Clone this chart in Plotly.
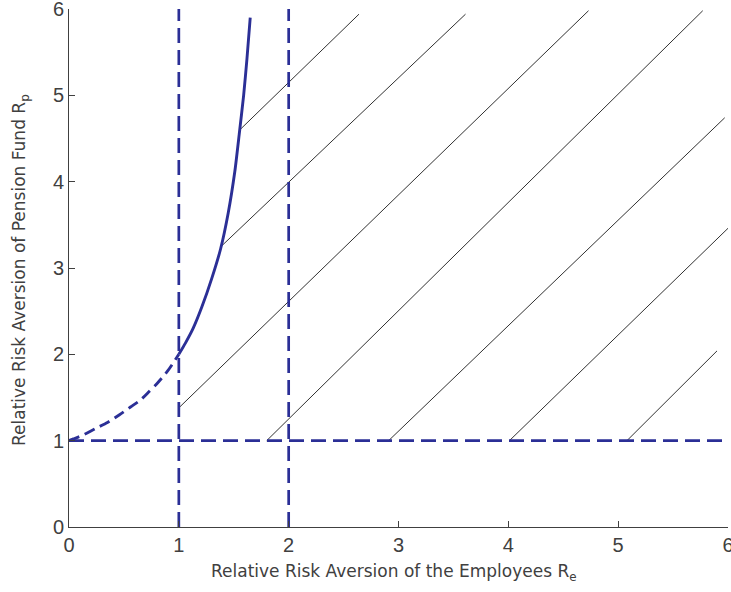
import plotly.graph_objects as go

# Boundary curve
curve_dash_x = [0.00, 0.04, 0.12, 0.24, 0.35, 0.46, 0.56, 0.65, 0.73, 0.80, 0.90, 1.00]
curve_dash_y = [1.00, 1.02, 1.06, 1.14, 1.21, 1.30, 1.39, 1.47, 1.57, 1.66, 1.81, 2.00]
curve_solid_x = [1.00, 1.06, 1.13, 1.21, 1.30, 1.38, 1.45, 1.51, 1.55, 1.59, 1.62, 1.65]
curve_solid_y = [2.00, 2.13, 2.30, 2.55, 2.88, 3.22, 3.64, 4.12, 4.55, 5.00, 5.42, 5.90]

# Hatch segments (start / end)
hatch_x0 = [1.555, 1.385, 1.00, 1.80, 2.91, 4.01, 5.08]
hatch_y0 = [4.60, 3.25, 1.38, 1.00, 1.00, 1.00, 1.00]
hatch_x1 = [2.64, 3.61, 4.73, 5.77, 5.97, 6.00, 5.90]
hatch_y1 = [5.94, 5.94, 5.98, 5.98, 4.74, 3.46, 2.04]

# Reference dashed lines
vline_x = [1, 2]
vline_y = [0, 6]
hline_y = [1]
hline_x = [0, 6]

tick_vals = [0, 1, 2, 3, 4, 5, 6]

x_title = "Relative Risk Aversion of the Employees R<sub>e</sub>"
y_title = "Relative Risk Aversion of Pension Fund R<sub>p</sub>"

BLUE = "#2B2F96"
GREY = "#404040"

fig = go.Figure()

hx, hy = [], []
for a, b, c, d in zip(hatch_x0, hatch_y0, hatch_x1, hatch_y1):
    hx += [a, c, None]
    hy += [b, d, None]
fig.add_trace(go.Scatter(x=hx, y=hy, mode="lines",
                         line=dict(color="#1a1a1a", width=0.9), hoverinfo="skip"))

for xv in vline_x:
    fig.add_trace(go.Scatter(x=[xv, xv], y=vline_y, mode="lines",
                             line=dict(color=BLUE, width=2.7, dash="15px,7px")))
for yv in hline_y:
    fig.add_trace(go.Scatter(x=hline_x, y=[yv, yv], mode="lines",
                             line=dict(color=BLUE, width=2.7, dash="15px,7px")))

fig.add_trace(go.Scatter(x=curve_dash_x, y=curve_dash_y, mode="lines",
                         line=dict(color=BLUE, width=2.9, dash="11px,6px",
                                   shape="spline", smoothing=0.6)))
fig.add_trace(go.Scatter(x=curve_solid_x, y=curve_solid_y, mode="lines",
                         line=dict(color=BLUE, width=2.9, shape="spline", smoothing=0.6)))

font_tick = dict(family="Liberation Sans Narrow, Arial Narrow, Liberation Sans, sans-serif",
                 size=20, color=GREY)
font_title = dict(family="DejaVu Sans, sans-serif", size=17, color=GREY)

fig.update_layout(
    width=731, height=592,
    margin=dict(l=69, r=3, t=9, b=65, autoexpand=False),
    paper_bgcolor="white", plot_bgcolor="white",
    showlegend=False,
    xaxis=dict(range=[0, 6], tickvals=tick_vals, ticks="inside", ticklen=6,
               tickcolor=GREY, showline=True, linecolor=GREY, linewidth=1,
               showgrid=False, zeroline=False, tickfont=font_tick,
               ticklabeloverflow="allow", automargin=False),
    yaxis=dict(range=[0, 6], tickvals=tick_vals, ticks="inside", ticklen=6,
               tickcolor=GREY, showline=True, linecolor=GREY, linewidth=1,
               showgrid=False, zeroline=False, tickfont=font_tick,
               ticklabeloverflow="allow", automargin=False),
    annotations=[
        dict(text=x_title, xref="paper", yref="paper", x=(394 - 69) / 659,
             y=-(572 - 527) / 518, xanchor="center", yanchor="middle",
             showarrow=False, font=font_title),
        dict(text=y_title, xref="paper", yref="paper", x=-(69 - 20) / 659,
             y=(527 - 270) / 518, xanchor="center", yanchor="middle",
             textangle=-90, showarrow=False, font=font_title),
    ],
)

fig.write_html("out.html")
